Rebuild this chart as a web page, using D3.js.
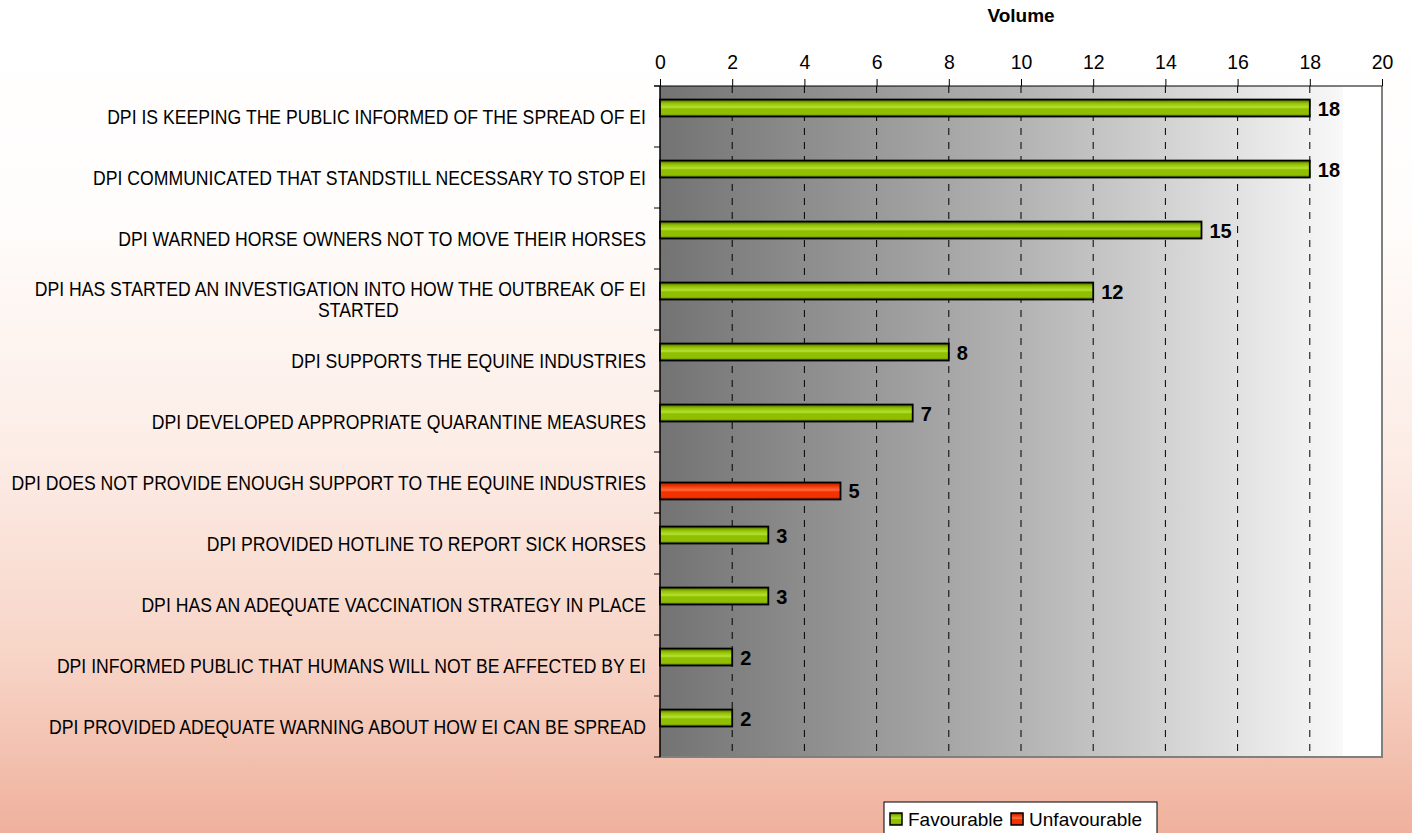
<!DOCTYPE html>
<html>
<head>
<meta charset="utf-8">
<script src="https://cdn.jsdelivr.net/npm/d3@7"></script>
<style>
html,body{margin:0;padding:0;background:#fff;}
svg{display:block;font-family:"Liberation Sans",Arial,sans-serif;}
</style>
</head>
<body>
<div id="chart"></div>
<script>
const categories=[
  'DPI IS KEEPING THE PUBLIC INFORMED OF THE SPREAD OF EI',
  'DPI COMMUNICATED THAT STANDSTILL NECESSARY TO STOP EI',
  'DPI WARNED HORSE OWNERS NOT TO MOVE THEIR HORSES',
  'DPI HAS STARTED AN INVESTIGATION INTO HOW THE OUTBREAK OF EI|STARTED',
  'DPI SUPPORTS THE EQUINE INDUSTRIES',
  'DPI DEVELOPED APPROPRIATE QUARANTINE MEASURES',
  'DPI DOES NOT PROVIDE ENOUGH SUPPORT TO THE EQUINE INDUSTRIES',
  'DPI PROVIDED HOTLINE TO REPORT SICK HORSES',
  'DPI HAS AN ADEQUATE VACCINATION STRATEGY IN PLACE',
  'DPI INFORMED PUBLIC THAT HUMANS WILL NOT BE AFFECTED BY EI',
  'DPI PROVIDED ADEQUATE WARNING ABOUT HOW EI CAN BE SPREAD'
];
const favourable=[18,18,15,12,8,7,null,3,3,2,2];
const unfavourable=[null,null,null,null,null,null,5,null,null,null,null];
const seriesNames=['Favourable','Unfavourable'];
const xTicks=[0,2,4,6,8,10,12,14,16,18,20];

const W=1412,H=833;
const m={top:86,left:660,right:30,bottom:76};
const LBL_SX=0.86;

const svg=d3.select('#chart').append('svg').attr('width',W).attr('height',H);
const defs=svg.append('defs');

// page background
const bg=defs.append('linearGradient').attr('id','bg').attr('x1',0).attr('y1',0).attr('x2',0).attr('y2',1);
[[0,'#ffffff'],[0.25,'#fffdfc'],[0.55,'#fcece5'],[0.8,'#f7d3c5'],[1,'#efb19c']]
  .forEach(s=>bg.append('stop').attr('offset',s[0]).attr('stop-color',s[1]));
svg.append('rect').attr('width',W).attr('height',H).attr('fill','url(#bg)');

// plot area background
const pg=defs.append('linearGradient').attr('id','plotbg').attr('x1',0).attr('y1',0).attr('x2',1).attr('y2',0);
[[0,'#737373'],[0.5,'#b3b3b3'],[0.945,'#f8f8f8'],[0.946,'#ffffff'],[1,'#ffffff']]
  .forEach(s=>pg.append('stop').attr('offset',s[0]).attr('stop-color',s[1]));

function barGrad(id,dark,mid,light){
  const g=defs.append('linearGradient').attr('id',id).attr('x1',0).attr('y1',0).attr('x2',0).attr('y2',1);
  [[0,dark],[0.2,mid],[0.45,light],[0.55,mid],[0.85,mid],[1,dark]]
    .forEach(s=>g.append('stop').attr('offset',s[0]).attr('stop-color',s[1]));
}
barGrad('gFav','#4a6400','#8fbf00','#b5e033');
barGrad('gUnf','#a82000','#f23300','#ff6a40');

const x=d3.scaleLinear().domain([0,20]).range([m.left,W-m.right]);
const y=d3.scaleBand().domain(d3.range(categories.length)).range([m.top,H-m.bottom]);
const sub=d3.scaleBand().domain(seriesNames).range([0,y.bandwidth()]).paddingOuter(0.8);

svg.append('rect').attr('x',x(0)).attr('y',m.top).attr('width',x(20)-x(0)).attr('height',H-m.bottom-m.top)
  .attr('fill','url(#plotbg)');

// gridlines
svg.append('g').selectAll('line').data(xTicks.filter(d=>d>0&&d<20)).enter().append('line')
  .attr('x1',d=>x(d)).attr('x2',d=>x(d)).attr('y1',m.top).attr('y2',H-m.bottom)
  .attr('stroke','#000').attr('stroke-width',1).attr('stroke-dasharray','7,7');

// right & bottom border
svg.append('path').attr('d',`M${x(20)},${m.top}V${H-m.bottom}H${x(0)}`)
  .attr('fill','none').attr('stroke','#808080').attr('stroke-width',2);

// top axis
const ax=svg.append('g').attr('transform',`translate(0,${m.top})`)
  .call(d3.axisTop(x).tickValues(xTicks).tickSize(7).tickPadding(10));
ax.select('.domain').remove();
ax.selectAll('.tick line').attr('stroke','#000');
ax.selectAll('.tick text').attr('fill','#000').style('font-size','20.5px')
  .style('font-family','"Liberation Sans",Arial,sans-serif').attr('transform','scale(0.95,1)');
svg.append('line').attr('x1',x(0)-6).attr('x2',x(20)).attr('y1',m.top).attr('y2',m.top)
  .attr('stroke','#000').attr('stroke-width',1);

svg.append('text').attr('x',(x(0)+x(20))/2).attr('y',22).attr('text-anchor','middle')
  .style('font-size','19px').style('font-weight','bold').text('Volume');

// left axis
svg.append('line').attr('x1',x(0)).attr('x2',x(0)).attr('y1',m.top).attr('y2',H-m.bottom)
  .attr('stroke','#000').attr('stroke-width',1.5);
svg.append('g').selectAll('line').data(d3.range(categories.length+1)).enter().append('line')
  .attr('x1',x(0)-6).attr('x2',x(0))
  .attr('y1',i=>m.top+i*y.step()).attr('y2',i=>m.top+i*y.step())
  .attr('stroke','#000');

// category labels (slightly condensed, like the original)
categories.forEach((c,i)=>{
  const lines=c.split('|');
  const cy=y(i)+y.bandwidth()/2;
  const lh=21;
  const y0=cy-(lines.length-1)*lh/2+7;
  const t1=svg.append('text').attr('transform',`translate(${x(0)-14},${y0}) scale(${LBL_SX},1)`)
    .attr('text-anchor','end').style('font-size','20.5px').attr('fill','#000').text(lines[0]);
  if(lines.length>1){
    const bb=t1.node().getBBox();
    const cx=x(0)-14+(bb.x+bb.width/2)*LBL_SX+18;
    svg.append('text').attr('transform',`translate(${cx},${y0+lh}) scale(${LBL_SX},1)`)
      .attr('text-anchor','middle').style('font-size','20.5px').attr('fill','#000').text(lines[1]);
  }
});

// bars
const series=[{name:'Favourable',values:favourable,fill:'url(#gFav)'},
              {name:'Unfavourable',values:unfavourable,fill:'url(#gUnf)'}];
series.forEach(s=>{
  const pts=s.values.map((v,i)=>({v,i})).filter(d=>d.v!=null);
  svg.append('g').selectAll('rect').data(pts).enter().append('rect')
    .attr('x',x(0)).attr('y',d=>y(d.i)+sub(s.name))
    .attr('width',d=>x(d.v)-x(0)).attr('height',sub.bandwidth())
    .attr('fill',s.fill).attr('stroke','#000').attr('stroke-width',1.8);
  svg.append('g').selectAll('text').data(pts).enter().append('text')
    .attr('x',d=>x(d.v)+8).attr('y',d=>y(d.i)+sub(s.name)+sub.bandwidth()/2+7.5)
    .style('font-size','20px').style('font-weight','bold').text(d=>d.v);
});

// legend
const lg=svg.append('g').attr('transform','translate(884,802)');
lg.append('rect').attr('width',273).attr('height',40).attr('fill','#fff').attr('stroke','#000').attr('stroke-width',1);
let lx=6;
[{name:'Favourable',fill:'url(#gFav)'},{name:'Unfavourable',fill:'url(#gUnf)'}].forEach(it=>{
  lg.append('rect').attr('x',lx).attr('y',11).attr('width',12).attr('height',12)
    .attr('fill',it.fill).attr('stroke','#000').attr('stroke-width',1.5);
  const t=lg.append('text').attr('x',lx+18).attr('y',24).style('font-size','19px').text(it.name);
  lx+=18+t.node().getComputedTextLength()+8;
});
</script>
</body>
</html>
